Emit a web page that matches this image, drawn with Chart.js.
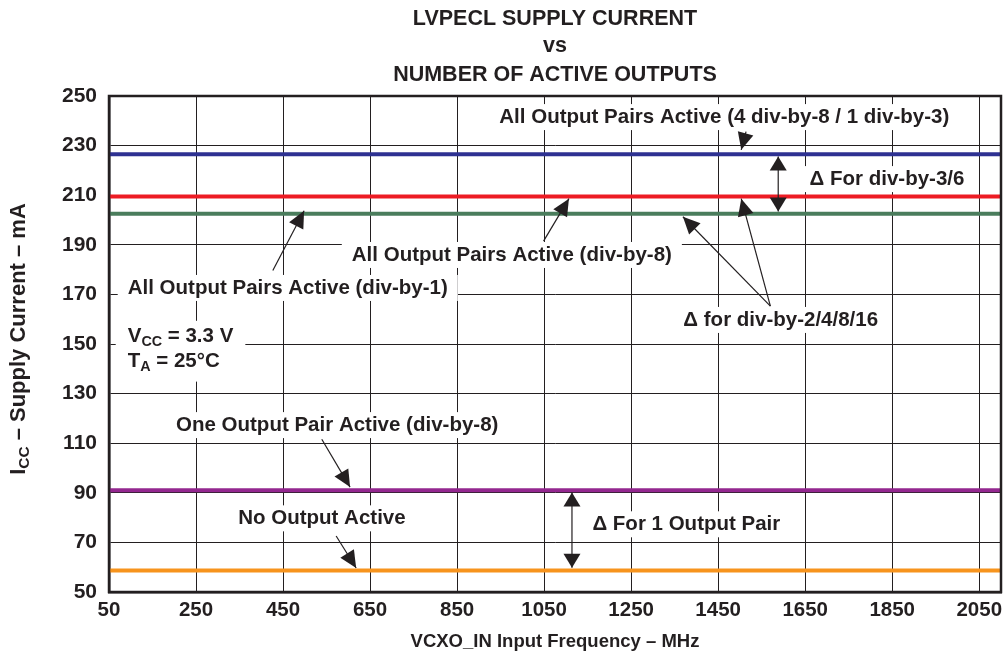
<!DOCTYPE html>
<html>
<head>
<meta charset="utf-8">
<script src="https://cdn.jsdelivr.net/npm/chart.js@4/dist/chart.umd.min.js"></script>
<style>
  body { margin: 0; background: #fff; }
</style>
</head>
<body>
<canvas id="chartSupply" width="1004" height="658"></canvas>
<script>
// data
const freqRange = [50, 2100];
const xTickValues = [50, 250, 450, 650, 850, 1050, 1250, 1450, 1650, 1850, 2050];
const yTickValues = [50, 70, 90, 110, 130, 150, 170, 190, 210, 230, 250];
const seriesNames = ['All Output Pairs Active (4 div-by-8 / 1 div-by-3)', 'All Output Pairs Active (div-by-8)',
    'All Output Pairs Active (div-by-1)', 'One Output Pair Active (div-by-8)', 'No Output Active'];
const seriesCurrent = [226.5, 209.5, 202.5, 91, 58.7];
const seriesColors = ['#2E3192', '#ED1C24', '#4A7D5C', '#93278F', '#F7941D'];

// annotations (placed in data units)
const labelTexts = ['All Output Pairs Active (4 div-by-8 / 1 div-by-3)', '\u0394 For div-by-3/6',
    'All Output Pairs Active (div-by-8)', 'All Output Pairs Active (div-by-1)', '\u0394 for div-by-2/4/8/16',
    'One Output Pair Active (div-by-8)', 'No Output Active', '\u0394 For 1 Output Pair'];
const labelFreq = [947, 1660, 608, 93, 1370, 204, 347, 1161];
const labelCurrent = [241.5, 216.5, 185.9, 172.6, 159.7, 117.3, 79.7, 77.3];
// single arrows: from freq, from current, to freq, to current
const arrowsSingle = [
    [1514, 235.6, 1503, 228.3],
    [426.5, 179.6, 498.4, 203.7],
    [1048.7, 191.5, 1107, 208.6],
    [1570, 165.3, 1369, 201.3],
    [1570, 165.3, 1503, 208.6],
    [539, 111.6, 604, 92.3],
    [572, 72.6, 618, 59.7]
];
const arrowsDouble = [
    [1588, 225.6, 1588, 203.4],
    [1114, 90.1, 1114, 59.8]
];
// conditions box
const condFreq = 93;
const condCurrent = [152.9, 142.9];

const ink = '#231F20';
const fam = '"Liberation Sans", Arial, Helvetica, sans-serif';
const noteSize = 20.5;

function richWidth(ctx, segs, size) {
    let w = 0;
    for (let s of segs) {
        ctx.font = 'bold ' + (s.sub ? size * 0.7 : size) + 'px ' + fam;
        w += ctx.measureText(s.t).width;
    }
    return w;
}
function drawRich(ctx, segs, x, y, size) {
    for (let s of segs) {
        ctx.font = 'bold ' + (s.sub ? size * 0.7 : size) + 'px ' + fam;
        ctx.fillText(s.t, x, s.sub ? y + size * 0.25 : y);
        x += ctx.measureText(s.t).width;
    }
}
function arrowHead(ctx, x1, y1, x2, y2, len, half) {
    const a = Math.atan2(y2 - y1, x2 - x1);
    ctx.beginPath();
    ctx.moveTo(x2, y2);
    ctx.lineTo(x2 - len * Math.cos(a) + half * Math.sin(a), y2 - len * Math.sin(a) - half * Math.cos(a));
    ctx.lineTo(x2 - len * Math.cos(a) - half * Math.sin(a), y2 - len * Math.sin(a) + half * Math.cos(a));
    ctx.closePath();
    ctx.fill();
}

const notesPlugin = {
    id: 'notes',
    beforeDatasetsDraw(chart) {
        const ctx = chart.ctx;
        const xs = chart.scales.x, ys = chart.scales.y;
        ctx.save();
        ctx.textBaseline = 'middle';
        ctx.textAlign = 'left';
        ctx.font = 'bold ' + noteSize + 'px ' + fam;
        for (var j = 0; j < labelTexts.length; j++) {
            const px = xs.getPixelForValue(labelFreq[j]);
            const py = ys.getPixelForValue(labelCurrent[j]);
            const w = ctx.measureText(labelTexts[j]).width;
            ctx.fillStyle = '#fff';
            ctx.fillRect(px - 10, py - 13, w + 20, 26);
            ctx.fillStyle = ink;
            ctx.fillText(labelTexts[j], px, py);
        }
        // conditions
        const cx = xs.getPixelForValue(condFreq);
        const c1 = ys.getPixelForValue(condCurrent[0]);
        const c2 = ys.getPixelForValue(condCurrent[1]);
        const l1 = [{t: 'V'}, {t: 'CC', sub: true}, {t: ' = 3.3 V'}];
        const l2 = [{t: 'T'}, {t: 'A', sub: true}, {t: ' = 25\u00B0C'}];
        const w = Math.max(richWidth(ctx, l1, noteSize), richWidth(ctx, l2, noteSize));
        ctx.fillStyle = '#fff';
        ctx.fillRect(cx - 12, c1 - 16, w + 24, c2 - c1 + 36);
        ctx.fillStyle = ink;
        drawRich(ctx, l1, cx, c1, noteSize);
        drawRich(ctx, l2, cx, c2, noteSize);
        ctx.restore();
    },
    afterDatasetsDraw(chart) {
        const ctx = chart.ctx;
        const xs = chart.scales.x, ys = chart.scales.y;
        const a = chart.chartArea;
        ctx.save();
        ctx.strokeStyle = ink;
        ctx.fillStyle = ink;
        ctx.lineWidth = 1.2;
        for (let r of arrowsSingle) {
            const x1 = xs.getPixelForValue(r[0]), y1 = ys.getPixelForValue(r[1]);
            const x2 = xs.getPixelForValue(r[2]), y2 = ys.getPixelForValue(r[3]);
            ctx.beginPath();
            ctx.moveTo(x1, y1);
            ctx.lineTo(x2, y2);
            ctx.stroke();
            arrowHead(ctx, x1, y1, x2, y2, 17, 8);
        }
        for (let r of arrowsDouble) {
            const x1 = xs.getPixelForValue(r[0]), y1 = ys.getPixelForValue(r[1]);
            const x2 = xs.getPixelForValue(r[2]), y2 = ys.getPixelForValue(r[3]);
            ctx.beginPath();
            ctx.moveTo(x1, y1);
            ctx.lineTo(x2, y2);
            ctx.stroke();
            arrowHead(ctx, x1, y1, x2, y2, 14, 8.5);
            arrowHead(ctx, x2, y2, x1, y1, 14, 8.5);
        }
        // frame
        ctx.lineWidth = 2.5;
        ctx.strokeRect(a.left, a.top, a.right - a.left, a.bottom - a.top);
        ctx.restore();
    },
    afterDraw(chart) {
        const ctx = chart.ctx;
        const a = chart.chartArea;
        const mid = (a.left + a.right) / 2;
        ctx.save();
        ctx.fillStyle = ink;
        ctx.textAlign = 'center';
        ctx.textBaseline = 'middle';
        ctx.font = 'bold 21.5px ' + fam;
        ctx.fillText('LVPECL SUPPLY CURRENT', mid, 19);
        ctx.fillText('vs', mid, 46);
        ctx.fillText('NUMBER OF ACTIVE OUTPUTS', mid, 75);
        // y axis title
        const segs = [{t: 'I'}, {t: 'CC', sub: true}, {t: ' \u2013 Supply Current \u2013 mA'}];
        ctx.textAlign = 'left';
        const w = richWidth(ctx, segs, 22);
        ctx.translate(19, 339);
        ctx.rotate(-Math.PI / 2);
        drawRich(ctx, segs, -w / 2, 0, 22);
        ctx.restore();
    }
};

const datasetValue = [];
for (var j = 0; j < seriesNames.length; j++) {
    datasetValue.push({
        label: seriesNames[j],
        data: freqRange.map(f => ({x: f, y: seriesCurrent[j]})),
        borderColor: seriesColors[j],
        backgroundColor: seriesColors[j],
        borderWidth: 4,
        pointRadius: 0,
        fill: false
    });
}

const config = {
    type: 'line',
    data: {datasets: datasetValue},
    options: {
        responsive: false,
        animation: false,
        layout: {padding: {top: 96, right: 3, left: 0, bottom: 0}},
        plugins: {
            legend: {display: false},
            title: {display: false},
            tooltip: {enabled: false}
        },
        scales: {
            x: {
                type: 'linear',
                min: freqRange[0],
                max: freqRange[1],
                afterBuildTicks: s => { s.ticks = xTickValues.map(v => ({value: v})); },
                afterFit: s => { s.height = 66; s.paddingLeft = 0; s.paddingRight = 0; },
                ticks: {
                    color: ink,
                    font: {family: fam, size: 20.5, weight: 'bold'},
                    padding: 6,
                    maxRotation: 0,
                    autoSkip: false,
                    callback: v => String(v)
                },
                grid: {color: ink, lineWidth: 1, drawTicks: false},
                border: {color: ink, width: 2.5},
                title: {
                    display: true,
                    text: 'VCXO_IN Input Frequency \u2013 MHz',
                    color: ink,
                    font: {family: fam, size: 18.5, weight: 'bold'},
                    padding: {top: 0, bottom: 5}
                }
            },
            y: {
                type: 'linear',
                min: 50,
                max: 250,
                afterBuildTicks: s => { s.ticks = yTickValues.map(v => ({value: v})); },
                afterFit: s => { s.width = 109; s.paddingTop = 0; s.paddingBottom = 0; },
                ticks: {
                    color: ink,
                    font: {family: fam, size: 21, weight: 'bold'},
                    padding: 12,
                    autoSkip: false
                },
                grid: {color: ink, lineWidth: 1, drawTicks: false},
                border: {color: ink, width: 2.5}
            }
        }
    },
    plugins: [notesPlugin]
};

const myChart = new Chart(document.getElementById('chartSupply'), config);
</script>
</body>
</html>
